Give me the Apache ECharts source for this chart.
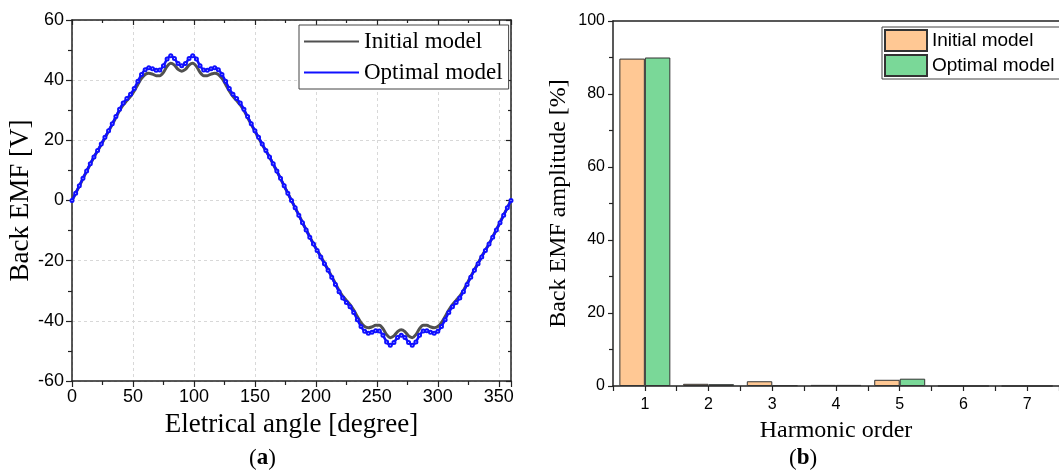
<!DOCTYPE html>
<html>
<head>
<meta charset="utf-8">
<script src="https://cdn.jsdelivr.net/npm/echarts@6/dist/echarts.min.js"></script>
<style>html,body{margin:0;padding:0;background:#fff}#c{width:1059px;height:475px}</style>
</head>
<body>
<div id="c"></div>
<script>
// Electrical angle (degree)
const angles = [0,3,6,9,12,15,18,21,24,27,30,33,36,39,42,45,48,51,54,57,60,63,66,69,72,75,78,81,84,87,90,93,96,99,102,105,108,111,114,117,120,123,126,129,132,135,138,141,144,147,150,153,156,159,162,165,168,171,174,177,180,183,186,189,192,195,198,201,204,207,210,213,216,219,222,225,228,231,234,237,240,243,246,249,252,255,258,261,264,267,270,273,276,279,282,285,288,291,294,297,300,303,306,309,312,315,318,321,324,327,330,333,336,339,342,345,348,351,354,357,360];
// Back EMF [V], initial model
const initialEMF = [0,2.4,4.8,7.3,9.7,12.1,14.4,16.5,18.6,20.8,23.0,25.3,27.6,29.9,31.8,33.2,34.6,36.4,38.6,40.6,41.9,42.3,42.0,41.5,41.5,42.6,44.6,45.6,45.0,43.6,43.0,43.6,45.0,45.6,44.6,42.6,41.5,41.5,42.0,42.3,41.9,40.6,38.6,36.4,34.6,33.2,31.8,29.9,27.6,25.3,23.0,20.8,18.6,16.5,14.4,12.1,9.7,7.3,4.8,2.4,0,-2.4,-4.8,-7.3,-9.7,-12.1,-14.4,-16.5,-18.6,-20.8,-23.0,-25.3,-27.6,-29.9,-31.8,-33.2,-34.6,-36.4,-38.6,-40.6,-41.9,-42.3,-42.0,-41.5,-41.5,-42.6,-44.6,-45.6,-45.0,-43.6,-43.0,-43.6,-45.0,-45.6,-44.6,-42.6,-41.5,-41.5,-42.0,-42.3,-41.9,-40.6,-38.6,-36.4,-34.6,-33.2,-31.8,-29.9,-27.6,-25.3,-23.0,-20.8,-18.6,-16.5,-14.4,-12.1,-9.7,-7.3,-4.8,-2.4,0];
// Back EMF [V], optimal model
const optimalEMF = [0,2.4,4.9,7.4,9.8,12.2,14.5,16.6,18.8,21.0,23.2,25.5,27.9,30.3,32.4,33.9,35.3,37.2,39.6,41.9,43.5,44.1,43.8,43.3,43.4,44.8,47.0,48.1,47.2,45.5,44.8,45.5,47.2,48.1,47.0,44.8,43.4,43.3,43.8,44.1,43.5,41.9,39.6,37.2,35.3,33.9,32.4,30.3,27.9,25.5,23.2,21.0,18.8,16.6,14.5,12.2,9.8,7.4,4.9,2.4,0,-2.4,-4.9,-7.4,-9.8,-12.2,-14.5,-16.6,-18.8,-21.0,-23.2,-25.5,-27.9,-30.3,-32.4,-33.9,-35.3,-37.2,-39.6,-41.9,-43.5,-44.1,-43.8,-43.3,-43.4,-44.8,-47.0,-48.1,-47.2,-45.5,-44.8,-45.5,-47.2,-48.1,-47.0,-44.8,-43.4,-43.3,-43.8,-44.1,-43.5,-41.9,-39.6,-37.2,-35.3,-33.9,-32.4,-30.3,-27.9,-25.5,-23.2,-21.0,-18.8,-16.6,-14.5,-12.2,-9.8,-7.4,-4.9,-2.4,0];

// Harmonic spectrum
const harmonicOrders = ['1','2','3','4','5','6','7'];
const initialHarm = [89.7,0.6,1.3,0.3,1.7,0,0];
const optimalHarm = [90.0,0.5,0.2,0.3,2.0,0,0];

const serif = 'Liberation Serif';
const sans = 'Liberation Sans';

const initialPts = angles.map((a,i)=>[a, initialEMF[i]]);
const optimalPts = angles.map((a,i)=>[a, optimalEMF[i]]);

const chart = echarts.init(document.getElementById('c'), null, {renderer:'canvas'});
const axisCol = '#222';
chart.setOption({
  animation:false,
  backgroundColor:'#fff',
  grid:[
    {left:72, top:20, width:439, height:361},
    {left:613, top:21, width:448, height:365}
  ],
  xAxis:[
    {gridIndex:0, type:'value', min:0, max:360, interval:50, position:'bottom',
     name:'Eletrical angle [degree]', nameLocation:'middle', nameGap:30,
     nameTextStyle:{fontFamily:serif, fontSize:27, color:'#000'},
     axisLine:{onZero:false, lineStyle:{color:axisCol, width:1.5}},
     axisTick:{inside:false, length:6, lineStyle:{color:axisCol, width:1.2}},
     minorTick:{show:true, splitNumber:2, length:4, lineStyle:{color:axisCol, width:1.2}},
     axisLabel:{fontFamily:sans, fontSize:18, color:'#000', margin:7, showMaxLabel:false},
     splitLine:{show:true, lineStyle:{color:'#d8d8d8', type:[3,3], width:1}}},
    {gridIndex:0, type:'value', min:0, max:360, interval:50, position:'top',
     axisLine:{onZero:false, lineStyle:{color:axisCol, width:1.5}},
     axisTick:{inside:true, length:5, lineStyle:{color:axisCol, width:1.2}},
     minorTick:{show:true, splitNumber:2, length:3, lineStyle:{color:axisCol, width:1.2}},
     axisLabel:{show:false}, splitLine:{show:false}},
    {gridIndex:1, type:'category', data:harmonicOrders, position:'bottom',
     name:'Harmonic order', nameLocation:'middle', nameGap:33,
     nameTextStyle:{fontFamily:serif, fontSize:24, color:'#000'},
     axisLine:{onZero:false, lineStyle:{color:axisCol, width:1.5}},
     axisTick:{show:true, length:5, lineStyle:{color:axisCol, width:1.2}},
     axisLabel:{fontFamily:sans, fontSize:16, color:'#000', margin:11},
     splitLine:{show:false}},
    {gridIndex:1, type:'category', data:harmonicOrders, position:'bottom',
     axisLine:{show:false},
     axisTick:{show:true, alignWithLabel:true, length:5, lineStyle:{color:axisCol, width:1.2}},
     axisLabel:{show:false}, splitLine:{show:false}},
    {gridIndex:1, type:'category', data:harmonicOrders, position:'top',
     axisLine:{onZero:false, lineStyle:{color:axisCol, width:1.5}},
     axisTick:{show:false}, axisLabel:{show:false}, splitLine:{show:false}}
  ],
  yAxis:[
    {gridIndex:0, type:'value', min:-60, max:60, interval:20, position:'left',
     name:'Back EMF [V]', nameLocation:'middle', nameGap:36,
     nameTextStyle:{fontFamily:serif, fontSize:27, color:'#000'},
     axisLine:{show:true, onZero:false, lineStyle:{color:axisCol, width:1.5}},
     axisTick:{show:true, inside:false, length:6, lineStyle:{color:axisCol, width:1.2}},
     minorTick:{show:true, splitNumber:2, length:4, lineStyle:{color:axisCol, width:1.2}},
     axisLabel:{fontFamily:sans, fontSize:18, color:'#000', margin:8},
     splitLine:{show:true, lineStyle:{color:'#d8d8d8', type:[3,3], width:1}}},
    {gridIndex:0, type:'value', min:-60, max:60, interval:20, position:'right',
     axisLine:{show:true, onZero:false, lineStyle:{color:axisCol, width:1.5}},
     axisTick:{show:true, inside:true, length:5, lineStyle:{color:axisCol, width:1.2}},
     minorTick:{show:true, splitNumber:2, length:3, lineStyle:{color:axisCol, width:1.2}},
     axisLabel:{show:false}, splitLine:{show:false}},
    {gridIndex:1, type:'value', min:0, max:100, interval:20, position:'left',
     name:'Back EMF amplitude [%]', nameLocation:'middle', nameGap:42,
     nameTextStyle:{fontFamily:serif, fontSize:24, color:'#000'},
     axisLine:{show:true, onZero:false, lineStyle:{color:axisCol, width:1.5}},
     axisTick:{show:true, inside:false, length:5, lineStyle:{color:axisCol, width:1.2}},
     minorTick:{show:true, splitNumber:2, length:4, lineStyle:{color:axisCol, width:1.2}},
     axisLabel:{fontFamily:sans, fontSize:16, color:'#000', margin:8},
     splitLine:{show:false}}
  ],
  legend:[
    {data:[{name:'Initial model', itemStyle:{opacity:0}},{name:'Optimal model', itemStyle:{opacity:0}}], orient:'vertical', left:299, top:25,
     itemWidth:55, itemHeight:12, itemGap:8,
     backgroundColor:'#fff', borderColor:'#444', borderWidth:1, borderRadius:0, padding:[5,6,5,4],
     textStyle:{fontFamily:serif, fontSize:23, color:'#000'}},
    {data:[{name:'Initial model ', icon:'rect'},{name:'Optimal model ', icon:'rect'}], orient:'vertical', left:882, top:27,
     itemWidth:42, itemHeight:21, itemGap:2,
     backgroundColor:'#fff', borderColor:'#444', borderWidth:1, borderRadius:0, padding:[2,2,2,2],
     textStyle:{fontFamily:sans, fontSize:19, color:'#000'}}
  ],
  series:[
    {name:'Initial model', type:'line', xAxisIndex:0, yAxisIndex:0, data:initialPts,
     smooth:0.3, showSymbol:false, symbol:'none', z:2,
     lineStyle:{color:'#505050', width:3}, itemStyle:{color:'#505050'}},
    {name:'Optimal model', type:'line', xAxisIndex:0, yAxisIndex:0, data:optimalPts,
     smooth:0.3, symbol:'emptyCircle', symbolSize:3, showSymbol:true, z:3,
     lineStyle:{color:'#1010ff', width:2.5}, itemStyle:{color:'#1010ff', borderColor:'#1010ff', borderWidth:1}},
    {name:'Initial model ', type:'bar', xAxisIndex:2, yAxisIndex:2, data:initialHarm,
     barWidth:'40%', barGap:'0%',
     itemStyle:{color:'#ffc894', borderColor:'#333', borderWidth:1}},
    {name:'Optimal model ', type:'bar', xAxisIndex:2, yAxisIndex:2, data:optimalHarm,
     barWidth:'40%', barGap:'0%',
     itemStyle:{color:'#7ad898', borderColor:'#333', borderWidth:1}}
  ],
  graphic:[
    {type:'text', left:249, top:447, style:{text:'{n|(}{b|a}{n|)}', rich:{n:{fontFamily:serif, fontSize:23, fill:'#000'}, b:{fontFamily:serif, fontSize:23, fontWeight:'bold', fill:'#000'}}}},
    {type:'text', left:789, top:447, style:{text:'{n|(}{b|b}{n|)}', rich:{n:{fontFamily:serif, fontSize:23, fill:'#000'}, b:{fontFamily:serif, fontSize:23, fontWeight:'bold', fill:'#000'}}}}
  ]
});
</script>
</body>
</html>
